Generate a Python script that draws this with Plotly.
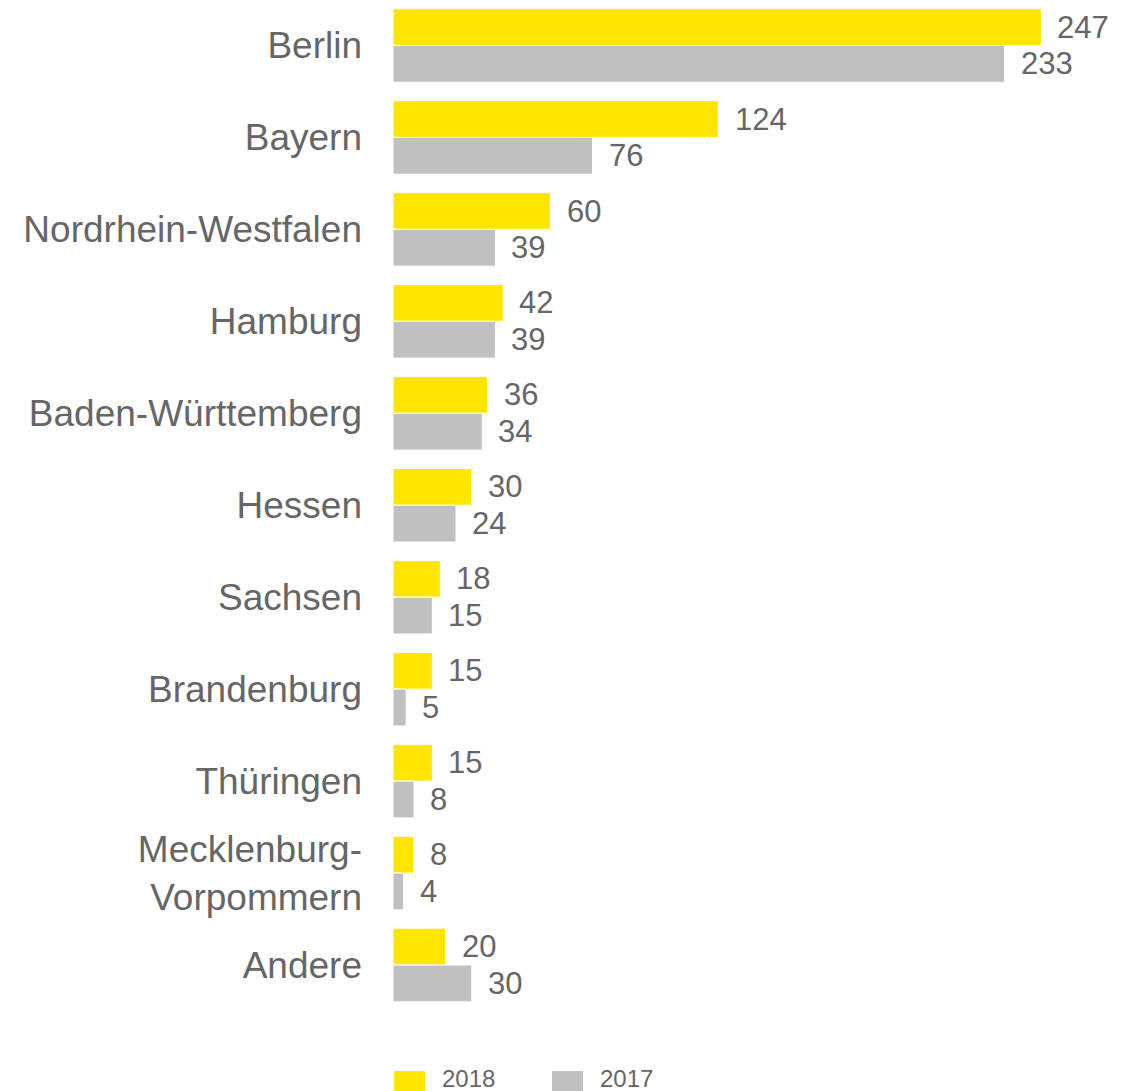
import plotly.graph_objects as go

categories = ["Berlin", "Bayern", "Nordrhein-Westfalen", "Hamburg", "Baden-Württemberg",
              "Hessen", "Sachsen", "Brandenburg", "Thüringen",
              "Mecklenburg-<br>Vorpommern", "Andere"]
values_2018 = [247, 124, 60, 42, 36, 30, 18, 15, 15, 8, 20]
values_2017 = [233, 76, 39, 39, 34, 24, 15, 5, 8, 4, 30]
series_names = ["2018", "2017"]

YELLOW = "#FFE600"
GRAY = "#C0C0C0"
TEXT = "#666666"
FONT = "Liberation Sans, Arial, sans-serif"

W, H = 1130, 1091
ML, MR, MT, MB = 393, 2, 0, 80
plot_w = W - ML - MR
plot_h = H - MT - MB

pos = list(range(len(categories)))

fig = go.Figure()
fig.add_trace(go.Bar(y=pos, x=values_2018, orientation="h", name=series_names[0],
                     marker=dict(color=YELLOW, line=dict(color="white", width=1))))
fig.add_trace(go.Bar(y=pos, x=values_2017, orientation="h", name=series_names[1],
                     marker=dict(color=GRAY, line=dict(color="white", width=1))))

annotations = []
for i in pos:
    for off, v in ((-0.2, values_2018[i]), (0.2, values_2017[i])):
        annotations.append(dict(x=v, y=i + off, xref="x", yref="y", text=str(v),
                                showarrow=False, xanchor="left", yanchor="middle",
                                xshift=14, font=dict(size=31, color=TEXT, family=FONT)))

def px_x(px):
    return (px - ML) / plot_w

def px_y(py):
    return (MT + plot_h - py) / plot_h

shapes = []
for name, color, sx, tx in ((series_names[0], YELLOW, 394, 440), (series_names[1], GRAY, 552, 598)):
    shapes.append(dict(type="rect", xref="paper", yref="paper",
                       x0=px_x(sx), x1=px_x(sx + 31), y0=px_y(1096), y1=px_y(1071),
                       fillcolor=color, line=dict(width=0)))
    annotations.append(dict(x=px_x(tx), y=px_y(1078), xref="paper", yref="paper", text=name,
                            showarrow=False, xanchor="left", yanchor="middle",
                            font=dict(size=24, color=TEXT, family=FONT)))

fig.update_layout(
    width=W, height=H,
    margin=dict(l=ML, r=MR, t=MT, b=MB),
    paper_bgcolor="white", plot_bgcolor="white",
    barmode="group", bargap=0.2, bargroupgap=0,
    showlegend=False,
    annotations=annotations, shapes=shapes,
    xaxis=dict(range=[0, plot_w / 2.625], visible=False, showgrid=False, zeroline=False),
    yaxis=dict(range=[10.5, -0.4946], tickmode="array", tickvals=pos, ticktext=categories,
               showgrid=False, zeroline=False, showline=False, ticks="",
               ticklabelstandoff=30,
               tickfont=dict(size=37, color=TEXT, family=FONT)),
)

fig.write_html("out.html", config={"displayModeBar": False},
               post_script="document.body.style.margin='0';")
